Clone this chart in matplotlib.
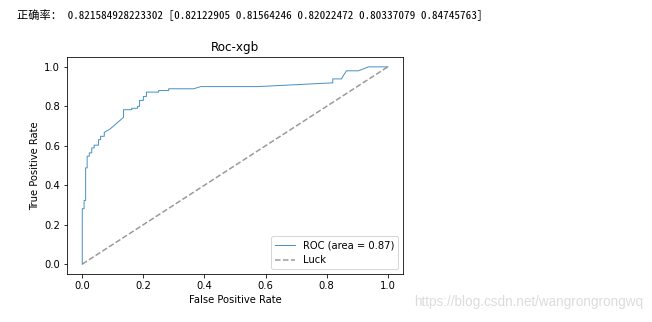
import matplotlib
matplotlib.use("Agg")
import matplotlib.pyplot as plt

# cross-validation accuracy printed above the plot
acc_mean = 0.821584928223302
acc_folds = [0.82122905, 0.81564246, 0.82022472, 0.80337079, 0.84745763]

# ROC curve of the xgb model
fpr = [0.0, 0.0, 0.006, 0.006, 0.011, 0.011, 0.016, 0.016, 0.023, 0.023,
       0.031, 0.031, 0.039, 0.039, 0.053, 0.053, 0.060, 0.060, 0.072, 0.072,
       0.091, 0.135, 0.135, 0.162, 0.162, 0.181, 0.181, 0.1875, 0.1875, 0.20,
       0.20, 0.21, 0.21, 0.25, 0.25, 0.283, 0.283, 0.365, 0.388, 0.575,
       0.82, 0.82, 0.849, 0.855, 0.865, 0.904, 0.937, 1.0]
tpr = [0.0, 0.281, 0.281, 0.323, 0.323, 0.488, 0.488, 0.547, 0.547, 0.564,
       0.564, 0.589, 0.589, 0.603, 0.603, 0.631, 0.631, 0.648, 0.648, 0.668,
       0.685, 0.744, 0.783, 0.783, 0.79, 0.79, 0.80, 0.80, 0.83, 0.83,
       0.85, 0.85, 0.872, 0.872, 0.88, 0.88, 0.889, 0.889, 0.90, 0.90,
       0.919, 0.939, 0.939, 0.956, 0.98, 0.98, 1.0, 1.0]
roc_auc = 0.87

fig = plt.figure(figsize=(652 / 72, 322 / 72), dpi=72)

# console line with the accuracy scores
line = "正确率： %s [%s]" % (repr(acc_mean), " ".join("%.8f" % a for a in acc_folds))
fig.text(17 / 652, 1 - 15 / 322, line,
         family=["Noto Sans Mono CJK SC", "Noto Sans CJK SC"],
         fontsize=11.2, va="center", ha="left")

ax = fig.add_axes([67 / 652, 48 / 322, 336 / 652, 217 / 322])
ax.plot(fpr, tpr, lw=1, alpha=0.8, label="ROC (area = %0.2f)" % roc_auc)
ax.plot([0, 1], [0, 1], linestyle="--", lw=1.5, color="grey", alpha=0.8, label="Luck")
ax.set_xlabel("False Positive Rate")
ax.set_ylabel("True Positive Rate")
ax.set_title("Roc-xgb")
ax.legend(loc="lower right")

fig.text(643 / 652, 1 - 302 / 322, "https://blog.csdn.net/wangrongrongwq",
         family=["Liberation Sans"], fontsize=13.5, color="#dcdcdc",
         ha="right", va="center")

fig.savefig("out.png", dpi=72)
